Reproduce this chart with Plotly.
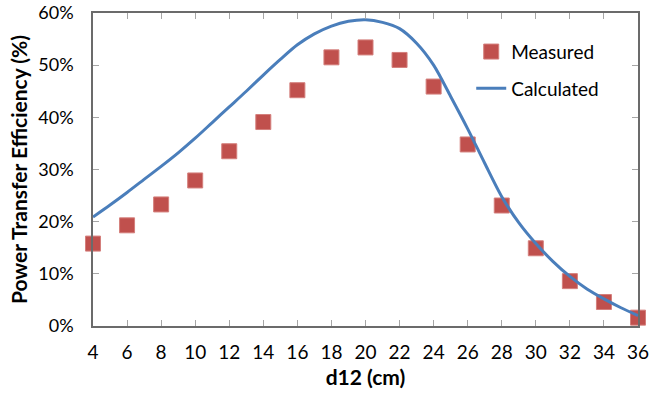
import plotly.graph_objects as go

# Separation between coils (cm)
d12_measured = [4, 6, 8, 10, 12, 14, 16, 18, 20, 22, 24, 26, 28, 30, 32, 34, 36]
eff_measured = [15.8, 19.3, 23.3, 27.9, 33.5, 39.1, 45.2, 51.5, 53.4, 51.0,
                45.9, 34.8, 23.1, 14.9, 8.6, 4.6, 1.6]

d12_calc = [4, 5, 6, 7, 8, 9, 10, 11, 12, 13, 14, 15, 16, 17, 18, 19, 20,
            21, 22, 23, 24, 25, 26, 27, 28, 29, 30, 31, 32, 33, 34, 35, 36]
eff_calc = [20.9, 23.2, 25.6, 28.1, 30.6, 33.2, 36.0, 39.0, 42.0, 45.0, 48.1,
            51.1, 53.9, 56.0, 57.5, 58.4, 58.7, 58.2, 57.0, 54.2, 50.0, 44.0,
            37.8, 31.2, 24.8, 19.8, 15.8, 12.4, 9.5, 7.1, 5.2, 3.5, 2.0]

FONT = "Lato"

fig = go.Figure()
fig.add_trace(go.Scatter(
    x=d12_measured, y=eff_measured, mode="markers", name="Measured",
    legendgroup="m", cliponaxis=False,
    marker=dict(symbol="square", size=15, color="#C0504D",
                line=dict(color="#D47F7C", width=1)),
))
fig.add_trace(go.Scatter(
    x=d12_calc, y=eff_calc, mode="lines", name="Calculated",
    legendgroup="c", cliponaxis=False, line_shape="spline",
    line=dict(color="#4A7EBB", width=3, smoothing=0.8),
))

axis_common = dict(
    showline=True, linecolor="#6b6b6b", linewidth=1.5, mirror="ticks",
    ticks="inside", ticklen=6, tickcolor="#A6A6A6", tickwidth=1,
    showgrid=False, zeroline=False, automargin=False,
)

fig.update_layout(
    width=650, height=401,
    margin=dict(l=93, r=12, t=13, b=75),
    paper_bgcolor="white", plot_bgcolor="white",
    showlegend=True,
    legend=dict(
        x=0.694, y=0.937, xanchor="left", yanchor="top",
        traceorder="grouped", tracegroupgap=9,
        font=dict(family=FONT, size=19, color="#000000"),
        bgcolor="rgba(0,0,0,0)",
    ),
    xaxis=dict(
        range=[4, 36], tick0=4, dtick=2, ticklabelstandoff=8,
        tickfont=dict(family=FONT, size=19, color="#000000"),
        title=dict(text="<b>d12 (cm)</b>", standoff=9,
                   font=dict(family=FONT, size=21, color="#000000")),
        **axis_common,
    ),
    yaxis=dict(
        range=[0, 60], dtick=10, ticksuffix="%", ticklabelstandoff=14,
        tickfont=dict(family=FONT, size=18, color="#000000"),
        title=dict(text="<b>Power Transfer Efficiency (%)</b>", standoff=5,
                   font=dict(family=FONT, size=21, color="#000000")),
        **axis_common,
    ),
)

fig.write_html("out.html")
